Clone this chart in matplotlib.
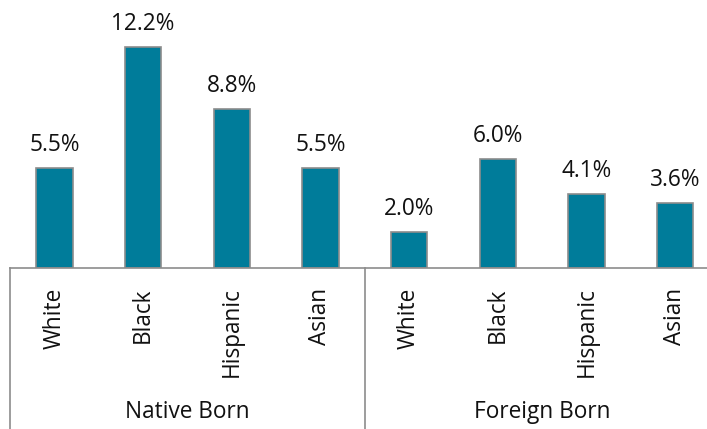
import matplotlib.pyplot as plt

groups = ['Native Born', 'Foreign Born']
races = ['White', 'Black', 'Hispanic', 'Asian']
native = [5.5, 12.2, 8.8, 5.5]
foreign = [2.0, 6.0, 4.1, 3.6]

values = native + foreign
labels = races + races
xs = list(range(len(values)))

plt.rcParams['font.family'] = ['Open Sans', 'DejaVu Sans']
fs = 16.3

fig = plt.figure(figsize=(7.07, 4.29), dpi=100)
ax = fig.add_axes([10 / 707, 161 / 429, 697 / 707, 268 / 429])

ax.bar(xs, values, width=0.41, color='#007C9A', edgecolor='#8C8C8C', linewidth=1.2)

for x, v in zip(xs, values):
    ax.annotate('{:.1f}%'.format(v), (x, v), xytext=(0, 8), textcoords='offset points',
                ha='center', va='bottom', fontsize=fs, color='#111111')

ax.set_xlim(-0.5, -0.5 + 697 / 88.7)
ax.set_ylim(0, 268 / 18.1)
ax.set_xticks(xs)
ax.set_xticklabels(labels, rotation=90, fontsize=fs, color='#111111')
ax.tick_params(axis='x', length=0, pad=14)
ax.set_yticks([])

for s in ['top', 'right', 'left']:
    ax.spines[s].set_visible(False)
ax.spines['bottom'].set_color('#8C8C8C')
ax.spines['bottom'].set_linewidth(1.2)

# group separators below the axis
trans = ax.get_xaxis_transform()
for xsep in [-0.5, 3.5]:
    ax.plot([xsep, xsep], [0, -161 / 268], transform=trans, color='#8C8C8C',
            linewidth=1.2, clip_on=False)

for i, g in enumerate(groups):
    ax.text(1.5 + 4 * i, -144 / 268, g, transform=trans, ha='center', va='center',
            fontsize=fs, color='#111111')

fig.savefig('out.png', dpi=100)
